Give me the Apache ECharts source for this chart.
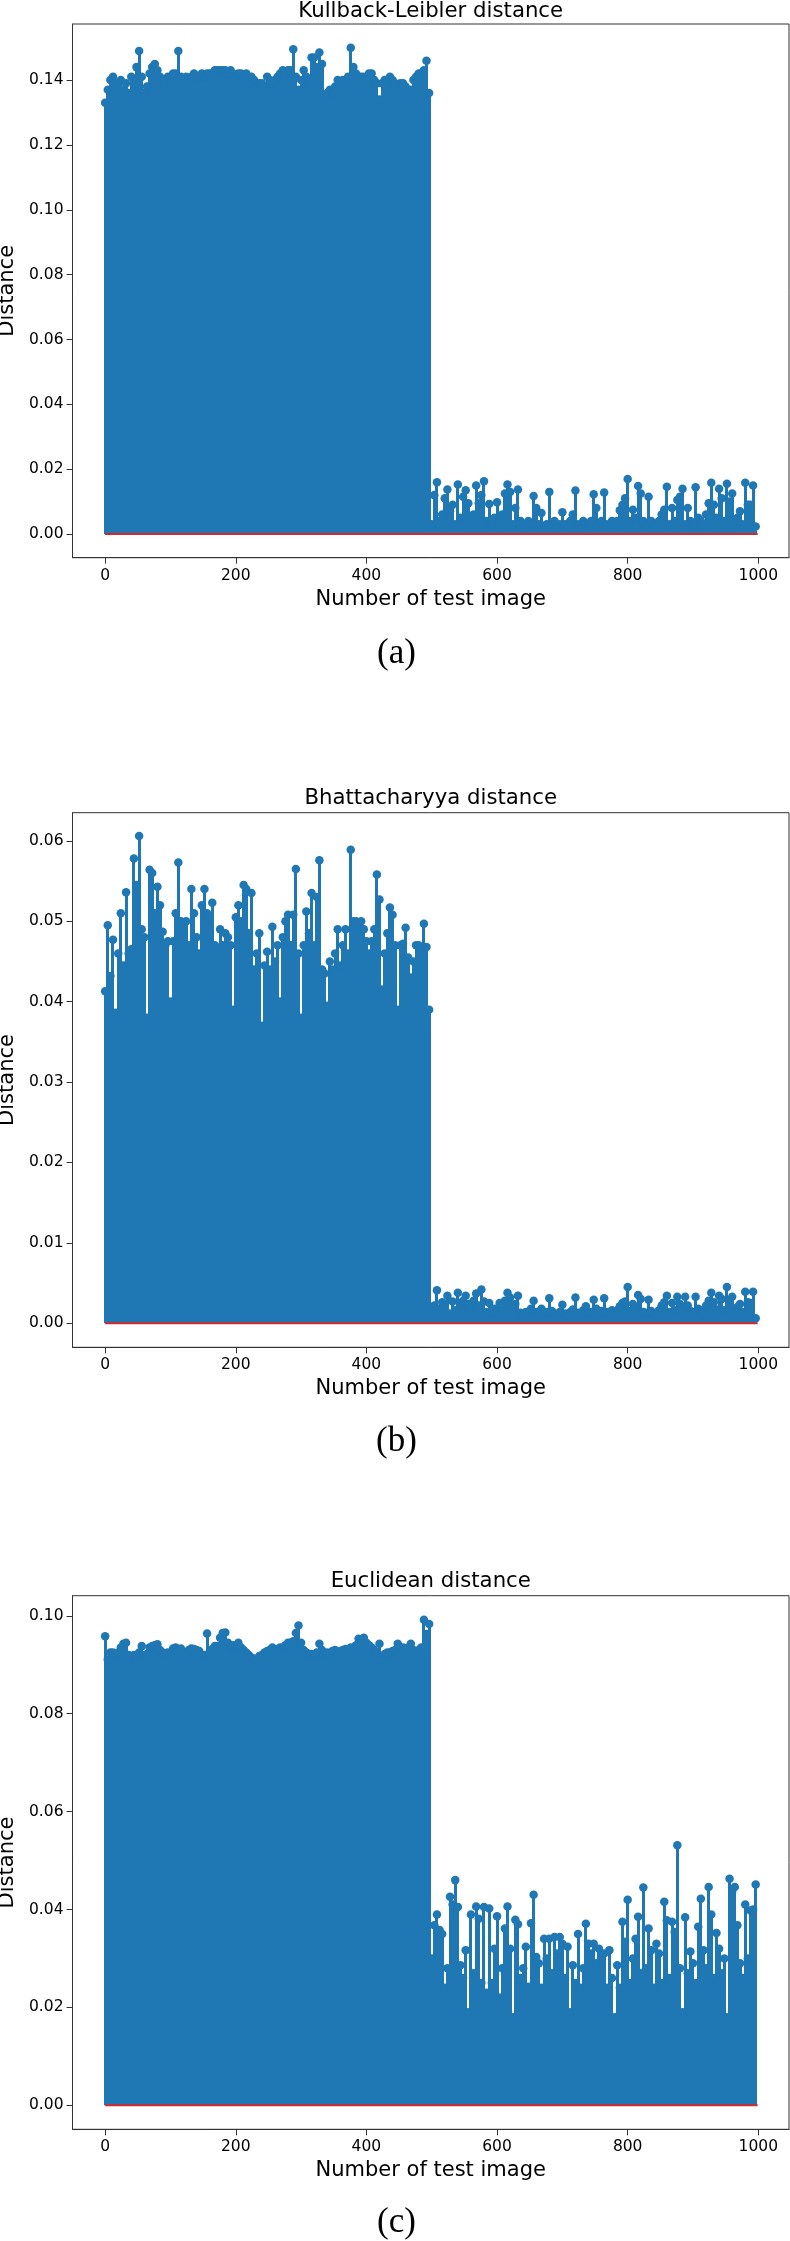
<!DOCTYPE html>
<html>
<head>
<meta charset="utf-8">
<script src="https://cdn.jsdelivr.net/npm/echarts@6/dist/echarts.min.js"></script>
<style>
html,body{margin:0;padding:0;background:#fff;}
#chart{width:790px;height:2241px;}
</style>
</head>
<body>
<div id="chart"></div>
<script>
// Test images are sampled every 4th index (0, 4, ..., 996)
const sampleStep = 4;

// (a) Kullback-Leibler distance, one value per sampled test image
const klValues = [
  0.133,0.137,0.140,0.141,0.139,0.138,0.140,0.137,0.139,0.136,
  0.141,0.140,0.144,0.149,0.141,0.136,0.138,0.142,0.144,0.145,
  0.143,0.141,0.138,0.140,0.141,0.141,0.142,0.142,0.149,0.141,
  0.140,0.141,0.140,0.141,0.142,0.141,0.141,0.142,0.141,0.142,
  0.142,0.142,0.143,0.143,0.143,0.143,0.143,0.142,0.143,0.142,
  0.141,0.142,0.142,0.141,0.142,0.141,0.141,0.140,0.138,0.139,
  0.139,0.138,0.141,0.140,0.139,0.140,0.141,0.142,0.143,0.142,
  0.143,0.143,0.1495,0.141,0.137,0.140,0.143,0.141,0.139,0.147,
  0.147,0.144,0.1485,0.145,0.135,0.136,0.137,0.136,0.138,0.140,
  0.139,0.140,0.140,0.141,0.150,0.144,0.142,0.141,0.141,0.141,
  0.140,0.142,0.142,0.140,0.139,0.134,0.139,0.140,0.139,0.141,
  0.140,0.139,0.137,0.139,0.139,0.138,0.136,0.137,0.140,0.141,
  0.142,0.142,0.143,0.146,0.136,
  0.003,0.012,0.016,0.004,0.006,0.011,0.0137,0.007,0.009,0.003,
  0.0153,0.005,0.0115,0.0135,0.0095,0.004,0.006,0.015,0.0095,0.012,
  0.0163,0.004,0.0093,0.003,0.005,0.0098,0.004,0.006,0.0125,0.0153,
  0.013,0.003,0.008,0.0137,0.004,0.002,0.003,0.004,0.003,0.0117,
  0.008,0.003,0.0065,0.002,0.003,0.013,0.003,0.004,0.002,0.003,
  0.0067,0.003,0.002,0.004,0.006,0.0134,0.003,0.002,0.004,0.003,
  0.002,0.004,0.0123,0.008,0.003,0.004,0.0128,0.003,0.002,0.004,
  0.003,0.004,0.0073,0.009,0.011,0.017,0.004,0.0075,0.005,0.0148,
  0.0125,0.004,0.003,0.0115,0.004,0.003,0.002,0.004,0.006,0.0075,
  0.0146,0.003,0.008,0.004,0.0105,0.0115,0.014,0.003,0.008,0.004,
  0.003,0.0144,0.005,0.004,0.003,0.006,0.0095,0.0158,0.009,0.005,
  0.014,0.011,0.004,0.0155,0.010,0.0125,0.004,0.005,0.007,0.003,
  0.0158,0.009,0.009,0.015,0.0023
];

// (b) Bhattacharyya distance
const bhValues = [
  0.0413,0.0495,0.0432,0.0477,0.0386,0.046,0.051,0.0445,0.0536,0.046,
  0.0465,0.0578,0.0545,0.0606,0.049,0.048,0.038,0.0564,0.056,0.051,
  0.0543,0.052,0.0487,0.047,0.0475,0.040,0.0475,0.051,0.0573,0.050,
  0.0495,0.050,0.047,0.054,0.051,0.048,0.046,0.052,0.054,0.051,
  0.0505,0.0523,0.047,0.0465,0.049,0.047,0.0485,0.048,0.047,0.039,
  0.0505,0.052,0.050,0.0545,0.054,0.0485,0.0535,0.044,0.046,0.0485,
  0.037,0.0445,0.0462,0.044,0.0493,0.045,0.047,0.040,0.048,0.050,
  0.0508,0.047,0.0508,0.0565,0.046,0.038,0.047,0.0512,0.0485,0.0535,
  0.047,0.053,0.0576,0.044,0.0435,0.0395,0.045,0.044,0.046,0.049,
  0.0445,0.047,0.049,0.046,0.0589,0.050,0.050,0.0495,0.050,0.049,
  0.0475,0.046,0.0475,0.049,0.0558,0.0527,0.0415,0.046,0.0485,0.0517,
  0.0508,0.047,0.039,0.047,0.0472,0.0492,0.0455,0.043,0.045,0.047,
  0.047,0.0465,0.0497,0.0468,0.039,
  0.0015,0.0022,0.0041,0.0018,0.0026,0.0022,0.0034,0.0012,0.0027,0.0016,
  0.0038,0.0025,0.0028,0.0034,0.0024,0.0016,0.0028,0.0037,0.0022,0.0042,
  0.0027,0.0014,0.0025,0.0012,0.0018,0.0014,0.0025,0.0016,0.0028,0.0038,
  0.0032,0.0015,0.0024,0.0034,0.0013,0.0010,0.0014,0.0012,0.0018,0.0028,
  0.0014,0.0011,0.0018,0.0012,0.0014,0.0031,0.0015,0.0012,0.0011,0.0014,
  0.0023,0.0012,0.0010,0.0014,0.0017,0.0032,0.0013,0.0011,0.0016,0.0021,
  0.0012,0.0014,0.0029,0.0018,0.0012,0.0015,0.0031,0.0014,0.0012,0.0016,
  0.0013,0.0016,0.0021,0.0025,0.0027,0.0045,0.0015,0.0024,0.0020,0.0035,
  0.0030,0.0014,0.0013,0.0029,0.0015,0.0012,0.0011,0.0016,0.0022,0.0026,
  0.0034,0.0014,0.0025,0.0016,0.0033,0.0024,0.0018,0.0033,0.0022,0.0015,
  0.0014,0.0033,0.0018,0.0016,0.0012,0.0022,0.0028,0.0038,0.0026,0.0017,
  0.0034,0.0030,0.0016,0.0045,0.0027,0.0033,0.0015,0.0020,0.0024,0.0014,
  0.0039,0.0026,0.0025,0.0039,0.0006
];

// (c) Euclidean distance
const euValues = [
  0.0958,0.091,0.0925,0.0925,0.092,0.0925,0.0935,0.0943,0.0945,0.092,
  0.0915,0.092,0.0918,0.0925,0.0938,0.092,0.0922,0.0935,0.0938,0.094,
  0.0942,0.093,0.0925,0.0922,0.0925,0.092,0.0933,0.0935,0.093,0.0933,
  0.0925,0.0922,0.093,0.0933,0.0932,0.093,0.0928,0.092,0.092,0.0964,
  0.0925,0.0932,0.0938,0.0938,0.0955,0.0965,0.0966,0.0945,0.0938,0.094,
  0.0935,0.0945,0.0935,0.093,0.0925,0.092,0.0915,0.0912,0.091,0.0918,
  0.092,0.0925,0.0928,0.093,0.0935,0.093,0.0932,0.0935,0.0935,0.094,
  0.0945,0.0945,0.0948,0.0965,0.098,0.0945,0.093,0.0925,0.092,0.0922,
  0.092,0.0925,0.0943,0.093,0.0922,0.0925,0.0922,0.0928,0.093,0.0925,
  0.0928,0.093,0.0932,0.093,0.0935,0.0932,0.094,0.0953,0.0945,0.0955,
  0.0945,0.094,0.0935,0.093,0.0925,0.0943,0.091,0.0922,0.0925,0.0925,
  0.0928,0.093,0.0943,0.0935,0.0935,0.0932,0.0935,0.0943,0.093,0.0925,
  0.093,0.0935,0.0992,0.0963,0.0983,
  0.030,0.0368,0.039,0.0358,0.035,0.024,0.028,0.0426,0.041,0.046,
  0.0405,0.0286,0.026,0.0317,0.019,0.039,0.027,0.0406,0.0381,0.025,
  0.0405,0.023,0.0402,0.025,0.032,0.0386,0.022,0.028,0.0361,0.0406,
  0.032,0.018,0.0379,0.037,0.026,0.028,0.0324,0.0242,0.0372,0.043,
  0.0303,0.029,0.024,0.034,0.030,0.034,0.027,0.0344,0.031,0.0344,
  0.033,0.026,0.0324,0.019,0.0286,0.025,0.035,0.024,0.028,0.0371,
  0.033,0.031,0.033,0.029,0.032,0.030,0.031,0.024,0.0317,0.026,
  0.018,0.0286,0.024,0.0375,0.0334,0.042,0.025,0.030,0.034,0.0385,
  0.027,0.0445,0.028,0.0361,0.0317,0.024,0.033,0.031,0.025,0.0416,
  0.0378,0.026,0.0375,0.0354,0.0531,0.028,0.019,0.0384,0.027,0.0314,
  0.029,0.025,0.0365,0.0422,0.0317,0.028,0.0446,0.039,0.026,0.0352,
  0.032,0.027,0.030,0.018,0.0463,0.0436,0.0446,0.0368,0.029,0.026,
  0.041,0.030,0.0398,0.040,0.0451
];

// Tick labels
const xTicks = [0, 200, 400, 600, 800, 1000];
const klTicks = [0.00, 0.02, 0.04, 0.06, 0.08, 0.10, 0.12, 0.14];
const bhTicks = [0.00, 0.01, 0.02, 0.03, 0.04, 0.05, 0.06];
const euTicks = [0.00, 0.02, 0.04, 0.06, 0.08, 0.10];

// Texts
const titles = ['Kullback-Leibler distance', 'Bhattacharyya distance', 'Euclidean distance'];
const captions = ['(a)', '(b)', '(c)'];
const xLabel = 'Number of test image';
const yLabel = 'Distance';
const baselineRange = [0, 999];

// ---- layout / style (not data) ----
const BLUE = '#1f77b4', RED = '#d62728', AXIS = '#333';
const FONT = '"DejaVu Sans", sans-serif';
const STEM_W = 3; // whole pixels, snapped so neighbouring stems merge without seams
const gridLeft = 72.5, gridWidth = 716.5;
const panels = [
  { values: klValues, ticks: klTicks, top: 24,    height: 533.7, ymin: -0.0073, ymax: 0.1573, titleY: 11.8,   capY: 654 },
  { values: bhValues, ticks: bhTicks, top: 812.7, height: 534.6, ymin: -0.0030, ymax: 0.0635, titleY: 798.5,  capY: 1442 },
  { values: euValues, ticks: euTicks, top: 1595.7,height: 533.6, ymin: -0.0049, ymax: 0.1041, titleY: 1581.2, capY: 2222.5 }
];

function renderStem(params, api) {
  const x = api.value(0), v = api.value(1);
  const p1 = api.coord([x, v]);
  const p0 = api.coord([x, 0]);
  const left = Math.round(p1[0] - STEM_W / 2);
  return {
    type: 'rect',
    shape: { x: left, y: p1[1], width: STEM_W, height: p0[1] - p1[1] },
    style: { fill: BLUE }
  };
}

const grid = [], xAxis = [], yAxis = [], series = [], graphic = [];
panels.forEach((p, k) => {
  grid.push({ left: gridLeft, top: p.top, width: gridWidth, height: p.height,
    outerBoundsMode: 'none', containLabel: false,
    show: true, borderColor: AXIS, borderWidth: 1, backgroundColor: 'transparent' });
  xAxis.push({
    type: 'value', gridIndex: k, min: -50, max: 1047,
    name: xLabel, nameLocation: 'middle', nameGap: 31,
    nameTextStyle: { fontFamily: FONT, fontSize: 21, color: '#000' },
    axisLine: { show: true, onZero: false, lineStyle: { color: AXIS, width: 1 } },
    axisTick: { show: true, length: 6, customValues: xTicks, lineStyle: { color: AXIS, width: 1 } },
    axisLabel: { customValues: xTicks, margin: 10, fontFamily: FONT, fontSize: 15.5, color: '#000',
      formatter: v => String(v) },
    splitLine: { show: false }
  });
  yAxis.push({
    type: 'value', gridIndex: k, min: p.ymin, max: p.ymax,
    name: yLabel, nameLocation: 'middle', nameGap: 38.5, nameRotate: 90,
    nameTextStyle: { fontFamily: FONT, fontSize: 21, color: '#000' },
    axisLine: { show: true, onZero: false, lineStyle: { color: AXIS, width: 1 } },
    axisTick: { show: true, length: 6, customValues: p.ticks, lineStyle: { color: AXIS, width: 1 } },
    axisLabel: { customValues: p.ticks, margin: 9, fontFamily: FONT, fontSize: 15.5, color: '#000',
      formatter: v => v.toFixed(2) },
    splitLine: { show: false }
  });
  const pts = p.values.map((v, i) => [i * sampleStep, v]);
  series.push({
    type: 'custom', xAxisIndex: k, yAxisIndex: k, data: pts, renderItem: renderStem,
    encode: { x: 0, y: 1 }, clip: true, z: 2, animation: false, silent: true
  });
  series.push({
    type: 'line', xAxisIndex: k, yAxisIndex: k,
    data: baselineRange.map(x => [x, 0]), symbol: 'none',
    lineStyle: { color: RED, width: 2 }, z: 3, animation: false, silent: true
  });
  series.push({
    type: 'scatter', xAxisIndex: k, yAxisIndex: k, data: pts, symbol: 'circle', symbolSize: 8.5,
    itemStyle: { color: BLUE, opacity: 1 }, z: 4, animation: false, silent: true
  });
  graphic.push({ type: 'text', x: gridLeft + gridWidth / 2, y: p.titleY, silent: true,
    style: { text: titles[k], font: '21.25px ' + FONT, fill: '#000',
      align: 'center', verticalAlign: 'middle', textAlign: 'center', textVerticalAlign: 'middle' } });
  graphic.push({ type: 'text', x: 396.5, y: p.capY, silent: true,
    style: { text: captions[k], font: '35px "Liberation Serif", serif', fill: '#000',
      align: 'center', verticalAlign: 'middle', textAlign: 'center', textVerticalAlign: 'middle' } });
});

const chart = echarts.init(document.getElementById('chart'), null, { renderer: 'canvas' });
chart.setOption({
  animation: false,
  backgroundColor: '#fff',
  grid, xAxis, yAxis, series, graphic
});
</script>
</body>
</html>
